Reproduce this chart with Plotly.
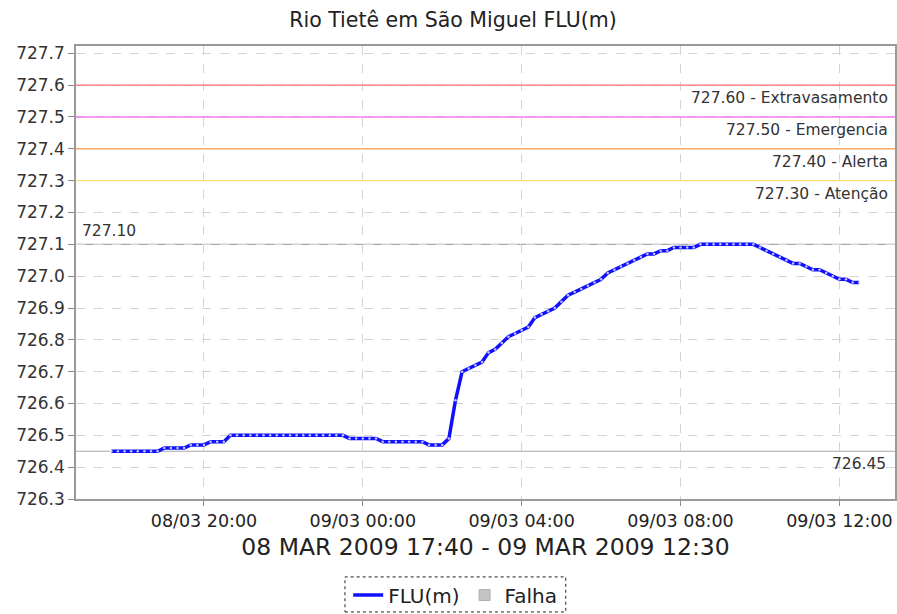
import pandas as pd
import plotly.graph_objects as go

# ---- data, 10-minute readings from 08 MAR 2009 17:40 ----
start_time = "2009-03-08 17:40"
flu_values = [
    726.45, 726.45, 726.45, 726.45, 726.45, 726.45, 726.45, 726.45,   # 17:40-18:50
    726.46, 726.46, 726.46, 726.46,                                   # 19:00-19:30
    726.47, 726.47, 726.47,                                           # 19:40-20:00
    726.48, 726.48, 726.48,                                           # 20:10-20:30
    726.50, 726.50, 726.50, 726.50, 726.50, 726.50, 726.50, 726.50, 726.50,
    726.50, 726.50, 726.50, 726.50, 726.50, 726.50, 726.50, 726.50, 726.50,  # 20:40-23:30
    726.49, 726.49, 726.49, 726.49, 726.49,                           # 23:40-00:20
    726.48, 726.48, 726.48, 726.48, 726.48, 726.48, 726.48,           # 00:30-01:30
    726.47, 726.47, 726.47,                                           # 01:40-02:00
    726.49, 726.61, 726.70, 726.71, 726.72, 726.73, 726.76, 726.77,   # 02:10-03:20
    726.79, 726.81, 726.82, 726.83, 726.84, 726.87, 726.88, 726.89,   # 03:30-04:40
    726.90, 726.92, 726.94, 726.95, 726.96, 726.97, 726.98, 726.99,   # 04:50-06:00
    727.01, 727.02, 727.03, 727.04, 727.05, 727.06, 727.07, 727.07,   # 06:10-07:20
    727.08, 727.08, 727.09, 727.09, 727.09, 727.09,                   # 07:30-08:20
    727.10, 727.10, 727.10, 727.10, 727.10, 727.10, 727.10, 727.10, 727.10,  # 08:30-09:50
    727.09, 727.08, 727.07, 727.06, 727.05, 727.04, 727.04, 727.03,   # 10:00-11:10
    727.02, 727.02, 727.01, 727.00, 726.99, 726.99, 726.98, 726.98,   # 11:20-12:30
]
flu_times = pd.date_range(start=start_time, periods=len(flu_values), freq="10min")

threshold_values = [727.60, 727.50, 727.40, 727.30]
threshold_labels = ["727.60 - Extravasamento", "727.50 - Emergencia",
                    "727.40 - Alerta", "727.30 - Atenção"]
threshold_colors = ["#ff7070", "#f07cf0", "#ffa868", "#ffe070"]

max_value = 727.10
min_value = 726.45
max_label = "727.10"
min_label = "726.45"

title_text = "Rio Tietê em São Miguel FLU(m)"
period_text = "08 MAR 2009 17:40 - 09 MAR 2009 12:30"
x_range = ["2009-03-08 16:46:40", "2009-03-09 13:24:00"]
y_range = [726.3, 727.723]

FONT = "DejaVu Sans"

fig = go.Figure()

# threshold lines
for v, c in zip(threshold_values, threshold_colors):
    fig.add_hline(y=v, line=dict(color=c, width=1.4), layer="above")
fig.add_hline(y=max_value, line=dict(color="#a8a8a8", width=1.2), layer="below")
fig.add_hline(y=min_value, line=dict(color="#a8a8a8", width=1.2), layer="below")

# dashed legend frame
fig.add_shape(type="rect", xref="paper", yref="paper",
              x0=0.3284, x1=0.598, y0=-0.2494, y1=-0.172,
              line=dict(color="#222222", width=1, dash="dot"))

fig.add_trace(go.Scatter(
    x=flu_times, y=flu_values, mode="lines", name="FLU(m)",
    line=dict(color="#1010ff", width=3.5),
))
fig.add_trace(go.Scatter(
    x=flu_times, y=flu_values, mode="markers", showlegend=False,
    marker=dict(color="rgba(255,255,255,0.75)", size=2.5, line=dict(width=0)),
    hoverinfo="skip",
))
fig.add_trace(go.Scatter(
    x=[None], y=[None], mode="markers", name="Falha",
    marker=dict(symbol="square", color="#c4c4c4", size=11,
                line=dict(color="#b0b0b0", width=1)),
))

for v, lab in zip(threshold_values, threshold_labels):
    fig.add_annotation(
        x=1, xref="paper", y=v, yref="y", text=lab, showarrow=False,
        xanchor="right", yanchor="top", xshift=-5, yshift=-2,
        font=dict(family=FONT, size=15.5, color="#333333"),
    )
fig.add_annotation(
    x=0, xref="paper", y=max_value, yref="y", text=max_label, showarrow=False,
    xanchor="left", yanchor="bottom", xshift=4, yshift=2,
    font=dict(family=FONT, size=15.5, color="#333333"),
)
fig.add_annotation(
    x=1, xref="paper", y=min_value, yref="y", text=min_label, showarrow=False,
    xanchor="right", yanchor="top", xshift=-7, yshift=-2,
    font=dict(family=FONT, size=15.5, color="#333333"),
)

fig.update_layout(
    width=897, height=614,
    margin=dict(l=76, r=2, t=46, b=115, autoexpand=False),
    paper_bgcolor="white", plot_bgcolor="white",
    title=dict(text=title_text, x=0.505, xanchor="center", y=0.967, yanchor="middle",
               font=dict(family=FONT, size=20.5, color="#222222")),
    showlegend=True,
    legend=dict(orientation="h", x=0.463, xanchor="center", y=-0.212, yanchor="middle",
                font=dict(family=FONT, size=20, color="#222222"),
                bgcolor="rgba(0,0,0,0)", itemwidth=30, tracegroupgap=0),
    xaxis=dict(
        type="date", range=x_range,
        tick0="2009-03-09 00:00", dtick=4 * 3600 * 1000,
        tickformat="%d/%m %H:%M",
        ticks="outside", ticklen=5, tickcolor="#888888",
        showgrid=True, gridcolor="#d4d4d4", griddash="dash", gridwidth=1,
        showline=True, linecolor="#9a9a9a", linewidth=1.5, mirror=True,
        zeroline=False, automargin=False,
        tickfont=dict(family=FONT, size=17.5, color="#222222"),
        title=dict(text=period_text, standoff=9,
                   font=dict(family=FONT, size=23.5, color="#222222")),
    ),
    yaxis=dict(
        range=y_range, dtick=0.1, tick0=726.3, tickformat=".1f",
        ticks="outside", ticklen=6, tickcolor="#888888",
        showgrid=True, gridcolor="#d4d4d4", griddash="dash", gridwidth=1,
        showline=True, linecolor="#9a9a9a", linewidth=1.5, mirror=True,
        zeroline=False, automargin=False,
        tickfont=dict(family=FONT, size=17, color="#333333"),
    ),
)

fig.write_html(
    "out.html",
    config={"displayModeBar": False},
    post_script="document.body.style.margin='0';document.body.style.overflow='hidden';",
)
